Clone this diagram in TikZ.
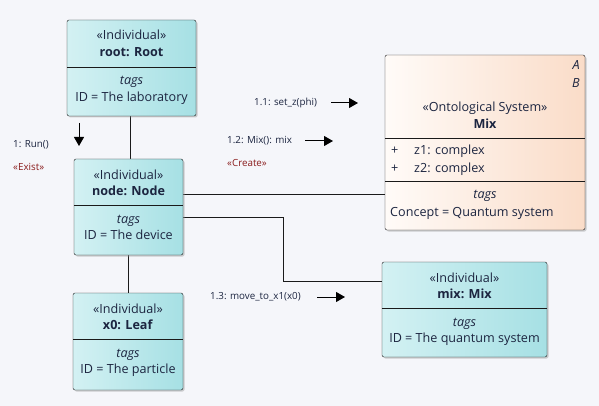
\documentclass[tikz,border=0pt]{standalone}
\usepackage{fontspec}
\setmainfont{Open Sans}
\usetikzlibrary{arrows.meta, positioning, calc, shadows}
\definecolor{umlbg}{HTML}{F5F6FA}
\definecolor{umlline}{HTML}{1A1A1A}
\definecolor{umltext}{HTML}{1C2540}
\definecolor{umlstereo}{HTML}{8A1C1C}
\definecolor{indleft}{HTML}{D3F1F3}
\definecolor{indright}{HTML}{A6E0E4}
\definecolor{sysleft}{HTML}{FFFBF8}
\definecolor{sysright}{HTML}{FADCC8}

\begin{document}
\begin{tikzpicture}[
  x=1pt, y=-1pt,
  ind/.style={draw=umlline, rounded corners=2pt, left color=indleft, right color=indright, inner sep=0pt,
    drop shadow={shadow xshift=1.5pt, shadow yshift=-1.5pt, fill=black!40, opacity=.45}},
  sys/.style={ind, left color=sysleft, right color=sysright},
  txt/.style={font=\fontsize{12.6}{15}\selectfont, text=umltext, inner sep=0pt, text height=9pt, text depth=3pt},
  msg/.style={font=\fontsize{9.8}{12}\selectfont, text=umltext, inner sep=0pt, anchor=west},
  st/.style={msg, text=umlstereo},
  lnk/.style={draw=umlline, line width=0.8pt},
  call/.style={-{Triangle[length=9pt, width=10pt]}, line width=1pt, black}
]
\fill[umlbg] (0,0) rectangle (599,406);
\useasboundingbox (0,0) rectangle (599,406);

% links
\draw[lnk] (130,116) -- (130,159);
\draw[lnk] (128,255) -- (128,293);
\draw[lnk] (183,194) -- (385,194);
\draw[lnk] (183,217) -| (283,281) -- (382,281);

% root
\node[ind, minimum width=129pt, minimum height=96pt] (root) at (131.5,68) {};
\draw[lnk] (root.west |- 0,67) -- (root.east |- 0,67);
\node[txt] (root1) at (131.5,37) {«Individual»};
\node[txt, below=4pt of root1] (root2) {\textbf{root: Root}};
\node[txt] (root3) at (131.5,82) {\textit{tags}};
\node[txt, below=4pt of root3] (root4) {ID = The laboratory};

% node
\node[ind, minimum width=109pt, minimum height=96pt] (node) at (128.5,207) {};
\draw[lnk] (node.west |- 0,205) -- (node.east |- 0,205);
\node[txt] (node1) at (128.5,176) {«Individual»};
\node[txt, below=4pt of node1] (node2) {\textbf{node: Node}};
\node[txt] (node3) at (128.5,220) {\textit{tags}};
\node[txt, below=4pt of node3] (node4) {ID = The device};

% leaf
\node[ind, minimum width=110pt, minimum height=97pt] (leaf) at (128,341.5) {};
\draw[lnk] (leaf.west |- 0,339) -- (leaf.east |- 0,339);
\node[txt] (leaf1) at (128,310) {«Individual»};
\node[txt, below=4pt of leaf1] (leaf2) {\textbf{x0: Leaf}};
\node[txt] (leaf3) at (128,354) {\textit{tags}};
\node[txt, below=4pt of leaf3] (leaf4) {ID = The particle};

% system Mix
\node[sys, minimum width=200pt, minimum height=175pt] (mixsys) at (485,142.5) {};
\draw[lnk] (mixsys.west |- 0,138) -- (mixsys.east |- 0,138);
\draw[lnk] (mixsys.west |- 0,181) -- (mixsys.east |- 0,181);
\node[txt, anchor=east] (sysA) at (580,67) {\textit{A}};
\node[txt, anchor=east] (sysB) at (580,85) {\textit{B}};
\node[txt] (sys1) at (485,109) {«Ontological System»};
\node[txt, below=4pt of sys1] (sys2) {\textbf{Mix}};
\node[txt, anchor=west] (sys3) at (391,152) {+};
\node[txt, anchor=west] (sys4) at (414,152) {z1: complex};
\node[txt, anchor=west] (sys5) at (391,169) {+};
\node[txt, anchor=west] (sys6) at (414,169) {z2: complex};
\node[txt] (sys7) at (485,195) {\textit{tags}};
\node[txt, anchor=west] (sys8) at (390,213) {Concept = Quantum system};

% individual mix
\node[ind, minimum width=165pt, minimum height=95pt] (mix) at (464.5,309.5) {};
\draw[lnk] (mix.west |- 0,308) -- (mix.east |- 0,308);
\node[txt] (mix1) at (464.5,279) {«Individual»};
\node[txt, below=4pt of mix1] (mix2) {\textbf{mix: Mix}};
\node[txt] (mix3) at (464.5,323) {\textit{tags}};
\node[txt, below=4pt of mix3] (mix4) {ID = The quantum system};

% messages
\node[msg] (run) at (13,145) {1: Run()};
\node[st] (exist) at (13,167) {«Exist»};
\coordinate (run0) at (79,123);
\coordinate (run1) at (79,146);
\draw[call] (run0) -- (run1);

\node[msg] (setz) at (254,103) {1.1: set\_z(phi)};
\coordinate (setz0) at (331,103);
\coordinate (setz1) at (358,103);
\draw[call] (setz0) -- (setz1);

\node[msg] (mixcall) at (227,141) {1.2: Mix(): mix};
\node[st] (create) at (227,163) {«Create»};
\coordinate (mixcall0) at (305,141);
\coordinate (mixcall1) at (333,141);
\draw[call] (mixcall0) -- (mixcall1);

\node[msg] (move) at (210,297) {1.3: move\_to\_x1(x0)};
\coordinate (move0) at (317,297);
\coordinate (move1) at (345,297);
\draw[call] (move0) -- (move1);
\end{tikzpicture}
\end{document}
